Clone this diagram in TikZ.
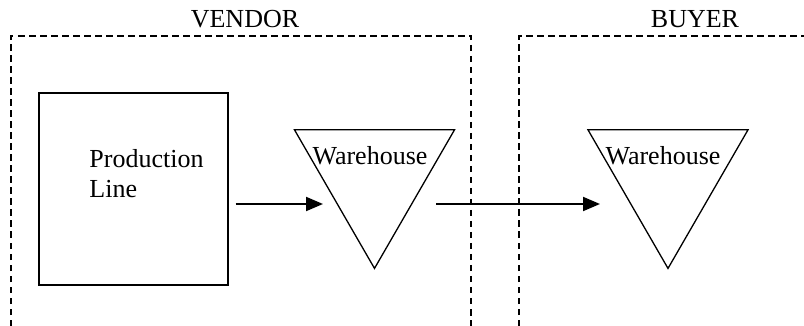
\documentclass[tikz,border=0pt]{standalone}
\usepackage{fontspec}
\setmainfont{Liberation Serif}
\usetikzlibrary{arrows.meta,calc,shapes.geometric}
\begin{document}
\begin{tikzpicture}[x=0.5pt,y=-0.5pt,
  lbl/.style={inner sep=0pt,font=\fontsize{13}{15}\selectfont},
  zone/.style={draw,line width=0.6pt,dash pattern=on 3.25pt off 2.25pt},
  boxshape/.style={draw,line width=0.65pt,rectangle,inner sep=0pt,minimum width=94.5pt,minimum height=96pt},
  whtri/.style={draw,line width=0.65pt,regular polygon,regular polygon sides=3,shape border rotate=180,minimum size=92.4pt,inner sep=0pt},
  arr/.style={line width=1pt,-{Triangle[length=8.5pt,width=7pt]}}]
\useasboundingbox (0,0) rectangle (804,326);
% zones
\coordinate (vbl) at (11,326);
\coordinate (vtl) at (11,36);
\coordinate (vtr) at (471,36);
\coordinate (vbr) at (471,326);
\coordinate (bbl) at (519,326);
\coordinate (btl) at (519,36);
\coordinate (btr) at (804,36);
\draw[zone] (vbl) -- (vtl) -- (vtr) -- (vbr);
\draw[zone] (bbl) -- (btl) -- (btr);
\node[lbl,anchor=base] (vendor) at (245,28) {VENDOR};
\node[lbl,anchor=base] (buyer) at (695,28) {BUYER};
% production line
\node[boxshape] (prod) at (133.5,189) {};
\node[lbl,align=left,anchor=north west] (prodtxt) at (89,149) {Production\\Line};
% warehouses
\node[whtri] (tri1) at (374.5,176) {};
\node[lbl,anchor=base] (wh1) at (370,165) {Warehouse};
\node[whtri] (tri2) at (668,176) {};
\node[lbl,anchor=base] (wh2) at (663,165) {Warehouse};
% arrows
\draw[arr] ($(prod.east)+(7,15)$) -- ($(tri1.center)+(-51.5,28)$);
\draw[arr] ($(tri1.center)+(61.5,28)$) -- ($(tri2.center)+(-68,28)$);
\end{tikzpicture}
\end{document}
